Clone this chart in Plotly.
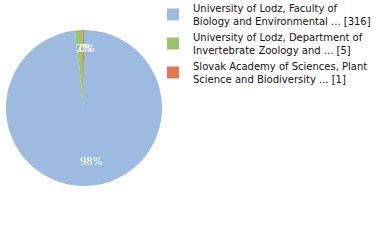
import math
import plotly.graph_objects as go

labels = ["University of Lodz, Faculty of<br>Biology and Environmental ... [316]",
          "University of Lodz, Department of<br>Invertebrate Zoology and ... [5]",
          "Slovak Academy of Sciences, Plant<br>Science and Biodiversity ... [1]"]
values = [316, 5, 1]
colors = ["#9dbae0", "#9bc46a", "#e07558"]

W, H = 380, 240
cx, cy, R = 84, 108, 78
total = sum(values)
pct = [f"{round(100*v/total)}%" for v in values]

fig = go.Figure(go.Pie(
    labels=labels, values=values, sort=False, direction="clockwise", rotation=0,
    marker=dict(colors=colors, line=dict(width=0)),
    textinfo="none",
    domain=dict(x=[(cx-R)/W, (cx+R)/W], y=[1-(cy+R)/H, 1-(cy-R)/H]),
    hoverinfo="skip",
))
annots = []
cum = 0
for i, v in enumerate(values):
    mid = (cum + v/2) / total * 2*math.pi
    cum += v
    px = cx + 0.73*R*math.sin(mid)
    py = cy - 0.73*R*math.cos(mid)
    annots.append(dict(x=px/W, y=1-py/H, xref="paper", yref="paper", text=pct[i],
                       xanchor="center", yanchor="middle",
                       xshift=4, yshift=3, showarrow=False,
                       font=dict(family="DejaVu Sans", size=10, color="white")))
fig.update_layout(
    width=W, height=H, margin=dict(l=0, r=0, t=0, b=0, autoexpand=False),
    paper_bgcolor="white", plot_bgcolor="white",
    showlegend=True, annotations=annots,
    legend=dict(x=153/W, y=1+5/H, xanchor="left", yanchor="top",
                font=dict(family="DejaVu Sans", size=10, color="#111"),
                itemwidth=30, tracegroupgap=0, bgcolor="rgba(0,0,0,0)"),
)
fig.write_html("out.html")
